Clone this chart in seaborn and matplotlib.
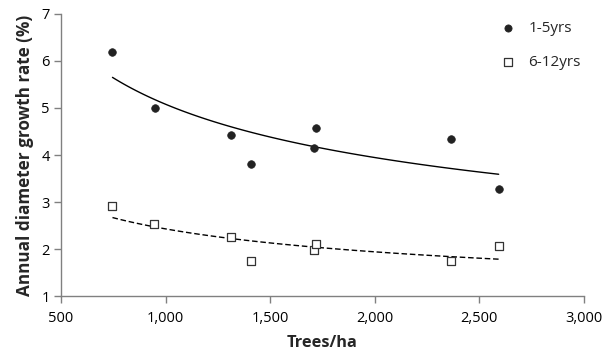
import numpy as np
import pandas as pd
import matplotlib
matplotlib.use("Agg")
import matplotlib.pyplot as plt
import seaborn as sns

# Stand density (trees per hectare) and annual diameter growth by age class
density_young = [746, 947, 1314, 1408, 1718, 1710, 2362, 2592]
growth_young = [6.19, 4.99, 4.43, 3.81, 4.57, 4.15, 4.34, 3.27]

density_old = [746, 946, 1313, 1408, 1710, 1718, 2362, 2592]
growth_old = [2.91, 2.53, 2.26, 1.74, 1.98, 2.10, 1.75, 2.07]

series_names = ["1-5yrs", "6-12yrs"]
x_ticks = [500, 1000, 1500, 2000, 2500, 3000]
y_ticks = [1, 2, 3, 4, 5, 6, 7]

sns.set_theme(style="white")
plt.rcParams["font.family"] = ["Open Sans", "DejaVu Sans"]

fig = plt.figure(figsize=(6.15, 3.58), dpi=100)
ax = fig.add_axes([0.0992, 0.173, 0.8504, 0.788])


def power_trend(x, y):
    """Least-squares power trendline y = a * x**b over the data range."""
    x = np.asarray(x, float)
    y = np.asarray(y, float)
    b, ln_a = np.polyfit(np.log(x), np.log(y), 1)
    xs = np.linspace(x.min(), x.max(), 100)
    return xs, np.exp(ln_a) * xs ** b


df_young = pd.DataFrame({"density": density_young, "growth": growth_young})
df_old = pd.DataFrame({"density": density_old, "growth": growth_old})

sns.scatterplot(data=df_young, x="density", y="growth", ax=ax, marker="o",
                s=30, color="#222222", edgecolor="#222222", linewidth=0.5,
                label=series_names[0], zorder=3)
sns.scatterplot(data=df_old, x="density", y="growth", ax=ax, marker="s",
                s=32, facecolor="white", edgecolor="#333333", linewidth=0.9,
                label=series_names[1], zorder=3)

xs, ys = power_trend(density_young, growth_young)
sns.lineplot(x=xs, y=ys, ax=ax, color="black", linewidth=1.0, zorder=2)
xs, ys = power_trend(density_old, growth_old)
sns.lineplot(x=xs, y=ys, ax=ax, color="black", linewidth=1.0,
             linestyle=(0, (4, 2)), zorder=2)

ax.set_xlim(500, 3000)
ax.set_ylim(1, 7)
ax.set_xticks(x_ticks)
ax.set_xticklabels([f"{t:,}" for t in x_ticks])
ax.set_yticks(y_ticks)
ax.set_yticklabels([str(t) for t in y_ticks])

for side in ["top", "right"]:
    ax.spines[side].set_visible(False)
for side in ["left", "bottom"]:
    ax.spines[side].set_color("#808080")
    ax.spines[side].set_linewidth(1.0)

ax.tick_params(axis="both", which="major", direction="out", length=5,
               width=1.0, color="#808080", labelsize=10.5, labelcolor="black",
               left=True, bottom=True)
ax.tick_params(axis="x", pad=6)
ax.tick_params(axis="y", pad=3)

ax.set_xlabel("Trees/ha", fontsize=11.8, fontweight="bold", labelpad=6)
ax.set_ylabel("Annual diameter growth rate (%)", fontsize=12.3,
              fontweight="bold", labelpad=5)

handles, labels = ax.get_legend_handles_labels()
ax.legend(handles[:2], labels[:2], loc="upper left",
          bbox_to_anchor=(0.80, 1.025), frameon=False, fontsize=11,
          labelspacing=1.25, handletextpad=0.3, markerscale=0.95)

fig.savefig("out.png", dpi=100)
